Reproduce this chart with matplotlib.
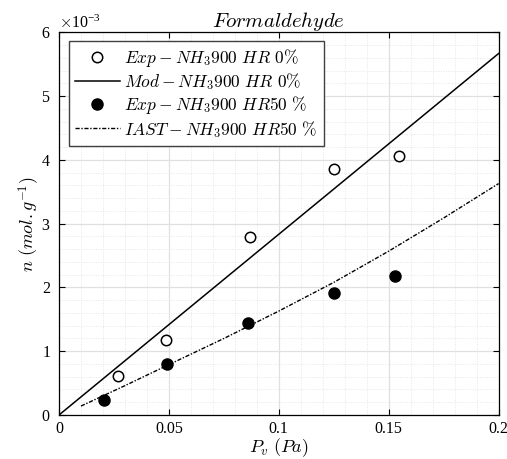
import numpy as np
import matplotlib
matplotlib.use("Agg")
import matplotlib.pyplot as plt
from matplotlib.ticker import MultipleLocator, ScalarFormatter, FuncFormatter

plt.rcParams['mathtext.fontset'] = 'cm'
plt.rcParams['font.family'] = 'Liberation Serif'

# experimental points, dry air (HR 0 %)
exp_dry_p = [0.027, 0.0486, 0.0868, 0.125, 0.1545]
exp_dry_n = [0.61e-3, 1.18e-3, 2.785e-3, 3.855e-3, 4.06e-3]

# model line, dry air
mod_dry_p = [0.0, 0.2]
mod_dry_n = [0.0, 5.67e-3]

# experimental points, humid air (HR 50 %)
exp_hum_p = [0.0203, 0.0492, 0.086, 0.125, 0.1527]
exp_hum_n = [0.235e-3, 0.80e-3, 1.437e-3, 1.907e-3, 2.18e-3]

# IAST prediction, humid air
iast_p = [0.01, 0.03, 0.05, 0.075, 0.1, 0.125, 0.15, 0.175, 0.2]
iast_n = [0.14e-3, 0.46e-3, 0.79e-3, 1.20e-3, 1.63e-3, 2.08e-3, 2.57e-3, 3.09e-3, 3.63e-3]

fig = plt.figure(figsize=(5.07, 4.59), dpi=100)
ax = fig.add_axes([0.1164, 0.0959, 0.8670, 0.8333])

ax.plot(exp_dry_p, exp_dry_n, 'o', mfc='white', mec='black', mew=1.1, ms=7.5,
        label=r'$Exp-NH_3900\ HR\ 0\%$', zorder=4)
ax.plot(mod_dry_p, mod_dry_n, '-', color='black', lw=1.1,
        label=r'$Mod-NH_3900\ HR\ 0\%$', zorder=3)
ax.plot(exp_hum_p, exp_hum_n, 'o', mfc='black', mec='black', ms=8,
        label=r'$Exp-NH_3900\ HR50\ \%$', zorder=4)
ax.plot(iast_p, iast_n, '-.', color='black', lw=1.0, dashes=(3, 1.2, 1, 1.2),
        label=r'$IAST-NH_3900\ HR50\ \%$', zorder=3)

ax.set_xlim(0, 0.2)
ax.set_ylim(0, 6e-3)
ax.xaxis.set_major_locator(MultipleLocator(0.05))
ax.xaxis.set_minor_locator(MultipleLocator(0.01))
ax.yaxis.set_major_locator(MultipleLocator(1e-3))
ax.yaxis.set_minor_locator(MultipleLocator(0.2e-3))
ax.xaxis.set_major_formatter(FuncFormatter(lambda v, p: '%g' % round(v, 4)))
sf = ScalarFormatter(useMathText=True)
sf.set_powerlimits((-3, -3))
ax.yaxis.set_major_formatter(sf)
ax.yaxis.get_offset_text().set_fontsize(11.5)

ax.grid(which='major', color='#e0e0e0', lw=0.9, ls='-')
ax.grid(which='minor', color='#e6e6e6', lw=0.7, ls=(0, (1, 1.5)))
ax.set_axisbelow(True)

ax.tick_params(which='major', direction='in', top=True, right=True,
               length=4, width=0.8, labelsize=11.5, pad=6)
ax.tick_params(axis='x', which='major', pad=4.5)
ax.tick_params(which='minor', length=0)
for s in ax.spines.values():
    s.set_linewidth(0.9)

ax.set_title(r'$Formaldehyde$', fontsize=15, pad=4)
ax.set_xlabel(r'$P_v\ (Pa)$', fontsize=13, labelpad=-1)
ax.set_ylabel(r'$n\ (mol.g^{-1})$', fontsize=13, labelpad=-1)

leg = ax.legend(loc='upper left', bbox_to_anchor=(0.022, 0.977), fontsize=12.5,
                fancybox=False, framealpha=1, edgecolor='#404040',
                handlelength=2.6, handletextpad=0.25, labelspacing=0.12,
                borderpad=0.35, borderaxespad=0)
leg.get_frame().set_linewidth(1.0)

fig.savefig('out.png', dpi=100)
